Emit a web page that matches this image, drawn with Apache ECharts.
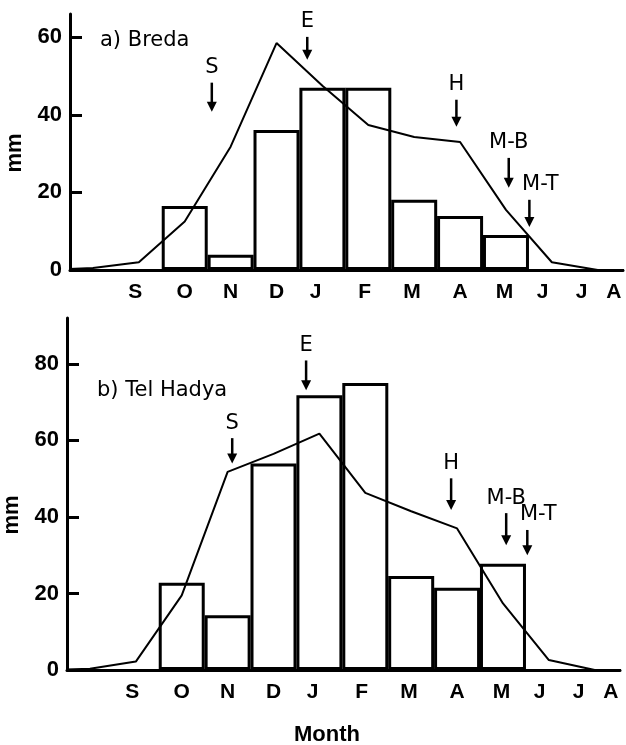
<!DOCTYPE html>
<html><head><meta charset="utf-8">
<script src="https://cdn.jsdelivr.net/npm/echarts@6/dist/echarts.min.js"></script>
<style>html,body{margin:0;padding:0;background:#fff}#c{width:626px;height:745px}</style>
</head><body><div id="c"></div>
<script>
// Months from previous July (-1) to August (12); position = index - 1
const months = ['Jul','Aug','S','O','N','D','J','F','M','A','M','J','J','A'];
const monthTickLabels = ['S','O','N','D','J','F','M','A','M','J','J','A'];
const monthTickPos = [0.92, 2, 3, 4, 4.85, 5.92, 6.95, 8, 8.97, 9.8, 10.65, 11.35];

const bredaBars = [null,null,null,16.5,3.9,36.1,47.0,47.0,18.1,13.9,9.0,null,null,null];
const bredaLine = [0,0.5,2,12.5,31.8,58.5,47.5,37.4,34.3,33,15.5,2,0,0];
const hadyaBars = [null,null,null,22.8,14.3,54,71.8,75,24.6,21.5,27.8,null,null,null];
const hadyaLine = [0,0.3,2.2,19.5,51.8,56.5,61.8,46.3,41.5,37,17.4,2.6,0,0];

const yTicksBreda = [0,20,40,60];
const yTicksHadya = [0,20,40,60,80];

// stage: [label, month position, arrow tip (mm), arrow tail (mm)]
const bredaStages = [['S',2.59,40.8,48.3],['E',4.67,54.2,60.1],['H',7.92,36.9,43.9],['M-B',9.06,21.2,28.9],['M-T',9.51,11.1,18.1]];
const hadyaStages = [['S',3.10,54.0,60.6],['E',4.71,73.1,80.9],['H',7.87,41.8,50.1],['M-B',9.07,32.6,41.0],['M-T',9.53,30.0,36.6]];

const chart = echarts.init(document.getElementById('c'));

function xAxisCfg(gi, name){
  return {gridIndex:gi, type:'value', min:-0.5, max:11.55,
    axisLine:{show:true, onZero:false, lineStyle:{color:'#000', width:3}},
    axisTick:{show:false}, splitLine:{show:false},
    axisLabel:{customValues: monthTickPos,
      formatter: v => { let b=0; monthTickPos.forEach((p,i)=>{ if (Math.abs(p-v)<Math.abs(monthTickPos[b]-v)) b=i; }); return monthTickLabels[b]; },
      color:'#000', fontSize:21, fontWeight:'bold', fontFamily:'Liberation Sans', margin:12},
    name: name || '', nameLocation:'middle', nameGap:54,
    nameTextStyle:{color:'#000', fontSize:22, fontWeight:'bold', fontFamily:'Liberation Sans', padding:[0,33,0,0]}
  };
}
function yAxisCfg(gi, max, ticks, pad){
  return {gridIndex:gi, type:'value', min:0, max:max,
    axisLine:{show:true, onZero:false, lineStyle:{color:'#000', width:3}},
    axisTick:{show:true, inside:true, length:12, customValues: ticks.filter(t=>t>0), lineStyle:{color:'#000', width:3}},
    splitLine:{show:false},
    axisLabel:{customValues: ticks, color:'#000', fontSize:22, fontWeight:'bold', fontFamily:'Liberation Sans', margin:8},
    name:'mm', nameLocation:'middle', nameGap:44,
    nameTextStyle:{color:'#000', fontSize:22, fontWeight:'bold', fontFamily:'Liberation Sans', padding:[0,pad,0,0]}
  };
}
function barSeries(vals, gi){
  return {type:'bar', xAxisIndex:gi, yAxisIndex:gi, barWidth:46, silent:true, z:2,
    data: vals.map((v,k)=> v==null ? null : [k-1, v]).filter(d=>d),
    itemStyle:{color:'#fff', borderColor:'#000', borderWidth:3}};
}
function lineSeries(vals, gi){
  return {type:'line', xAxisIndex:gi, yAxisIndex:gi, symbol:'none', silent:true, z:4,
    data: vals.map((v,k)=>[k-1, v]),
    lineStyle:{color:'#000', width:2}};
}
function stageSeries(stages, gi){
  return {type:'custom', xAxisIndex:gi, yAxisIndex:gi, clip:false, silent:true, z:5,
    data: stages.map(s=>[s[1], s[2], s[3]]),
    renderItem:(params, api)=>{
      const st = stages[params.dataIndex];
      const tip = api.coord([api.value(0), api.value(1)]);
      const tail = api.coord([api.value(0), api.value(2)]);
      const hh = 10, hw = 5;
      return {type:'group', children:[
        {type:'line', shape:{x1:tail[0], y1:tail[1], x2:tip[0], y2:tip[1]-hh+1}, style:{stroke:'#000', lineWidth:2.5}},
        {type:'polygon', shape:{points:[[tip[0]-hw, tip[1]-hh],[tip[0]+hw, tip[1]-hh],[tip[0], tip[1]]]}, style:{fill:'#000'}},
        {type:'text', x: tail[0] + (st[0]==='M-T' ? 11 : 0), y: tail[1]-15,
          style:{text:st[0], fill:'#000', fontSize:21, fontFamily:'DejaVu Sans', align:'center', verticalAlign:'middle'}}
      ]};
    }};
}

chart.setOption({
  animation:false,
  backgroundColor:'#fff',
  title:[
    {text:'a) Breda', left:100, top:30, padding:0, textStyle:{fontFamily:'DejaVu Sans', fontSize:21, fontWeight:'normal', color:'#000'}},
    {text:'b) Tel Hadya', left:97, top:380, padding:0, textStyle:{fontFamily:'DejaVu Sans', fontSize:21, fontWeight:'normal', color:'#000'}}
  ],
  grid:[
    {left:70, top:14, width:553, height:256, containLabel:false, outerBoundsMode:'none'},
    {left:67, top:318, width:553, height:352, containLabel:false, outerBoundsMode:'none'}
  ],
  xAxis:[xAxisCfg(0), xAxisCfg(1, 'Month')],
  yAxis:[yAxisCfg(0, 66, yTicksBreda, 22), yAxisCfg(1, 92, yTicksHadya, 42)],
  series:[
    barSeries(bredaBars, 0), lineSeries(bredaLine, 0), stageSeries(bredaStages, 0),
    barSeries(hadyaBars, 1), lineSeries(hadyaLine, 1), stageSeries(hadyaStages, 1)
  ]
});
</script></body></html>
